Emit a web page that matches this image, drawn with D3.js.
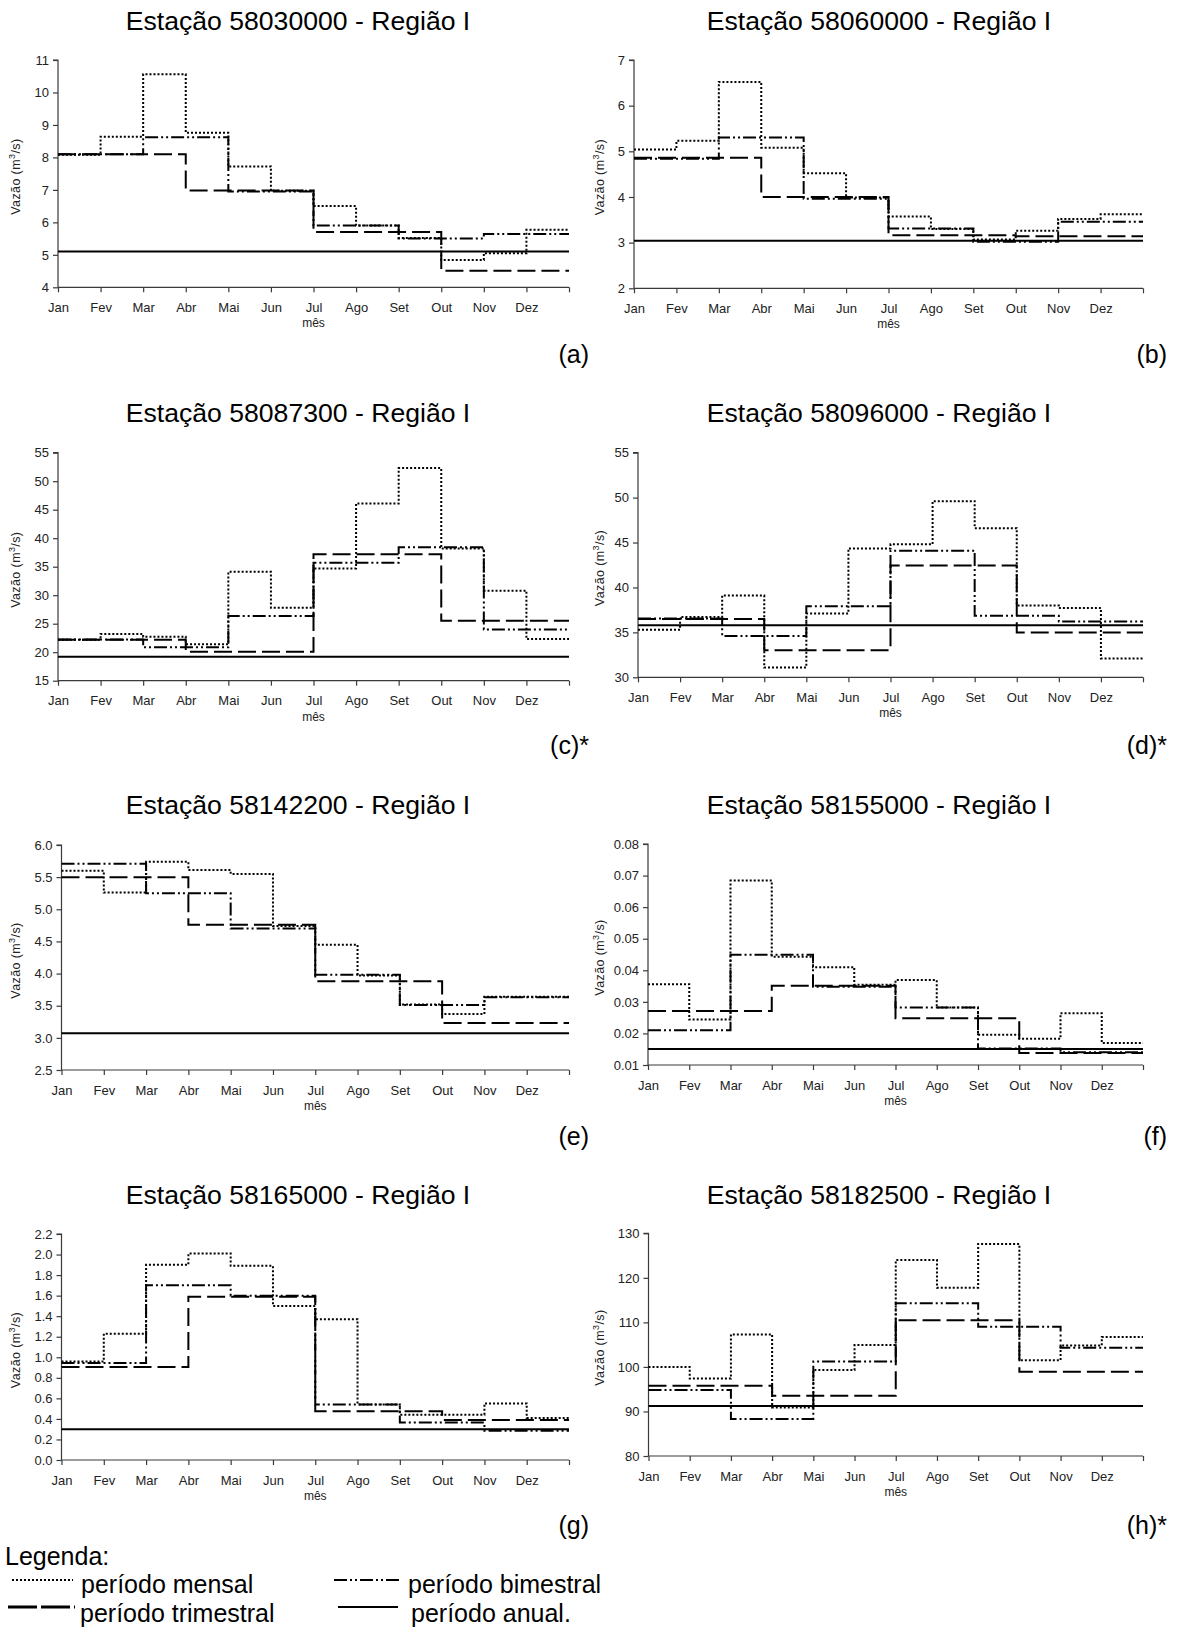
<!DOCTYPE html>
<html><head><meta charset="utf-8">
<script src="https://cdn.jsdelivr.net/npm/d3@7"></script>
<style>
body{margin:0;background:#fff;}
svg{display:block;}
text{font-family:"Liberation Sans",Arial,sans-serif;}
</style>
</head><body>
<svg id="chart" width="1177" height="1629"></svg>
<script>
// ---------- DATA ----------
const months = ["Jan","Fev","Mar","Abr","Mai","Jun","Jul","Ago","Set","Out","Nov","Dez"];
const titles = ["Estação 58030000 - Região I","Estação 58060000 - Região I","Estação 58087300 - Região I","Estação 58096000 - Região I","Estação 58142200 - Região I","Estação 58155000 - Região I","Estação 58165000 - Região I","Estação 58182500 - Região I"];
const panelLabels = ["(a)","(b)","(c)*","(d)*","(e)","(f)","(g)","(h)*"];

// (a) 58030000
const mensalA     = [8.08,8.64,10.56,8.76,7.72,6.97,6.50,5.90,5.52,4.84,5.05,5.77];
const bimestralA  = [8.10,8.62,6.95,5.90,5.50,5.64];
const trimestralA = [8.10,6.98,5.70,4.51];
const anualA      = [5.10];
const ticksA      = [4,5,6,7,8,9,10,11];
// (b) 58060000
const mensalB     = [5.04,5.23,6.52,5.08,4.52,3.99,3.57,3.30,3.07,3.26,3.52,3.62];
const bimestralB  = [4.84,5.30,3.96,3.31,3.02,3.46];
const trimestralB = [4.86,4.00,3.16,3.14];
const anualB      = [3.04];
const ticksB      = [2,3,4,5,6,7];
// (c) 58087300
const mensalC     = [22.2,23.2,22.7,21.4,34.1,27.8,34.7,46.1,52.3,38.2,30.8,22.3];
const bimestralC  = [22.25,20.85,26.35,35.7,38.4,24.0];
const trimestralC = [22.2,20.1,37.2,25.5];
const anualC      = [19.2];
const ticksC      = [15,20,25,30,35,40,45,50,55];
// (d) 58096000
const mensalD     = [35.3,36.7,39.1,31.1,37.1,44.35,44.8,49.6,46.6,38.0,37.7,32.1];
const bimestralD  = [36.55,34.6,37.9,44.1,36.85,36.2];
const trimestralD = [36.5,33.0,42.45,35.0];
const anualD      = [35.8];
const ticksD      = [30,35,40,45,50,55];
// (e) 58142200
const mensalE     = [5.60,5.26,5.74,5.61,5.55,4.74,4.45,3.97,3.52,3.37,3.64,3.64];
const bimestralE  = [5.71,5.25,4.70,3.98,3.51,3.63];
const trimestralE = [5.50,4.76,3.88,3.23];
const anualE      = [3.07];
const ticksE      = [2.5,3.0,3.5,4.0,4.5,5.0,5.5,6.0];
// (f) 58155000
const mensalF     = [0.0356,0.0244,0.0684,0.0443,0.0410,0.0354,0.0369,0.0282,0.0196,0.0183,0.0264,0.0170];
const bimestralF  = [0.0210,0.0449,0.0348,0.0282,0.0152,0.0140];
const trimestralF = [0.0271,0.0351,0.0248,0.0138];
const anualF      = [0.0151];
const ticksF      = [0.01,0.02,0.03,0.04,0.05,0.06,0.07,0.08];
// (g) 58165000
const mensalG     = [0.96,1.23,1.90,2.01,1.89,1.50,1.37,0.54,0.44,0.44,0.55,0.41];
const bimestralG  = [0.945,1.70,1.60,0.54,0.365,0.285];
const trimestralG = [0.905,1.59,0.475,0.39];
const anualG      = [0.30];
const ticksG      = [0.0,0.2,0.4,0.6,0.8,1.0,1.2,1.4,1.6,1.8,2.0,2.2];
// (h) 58182500
const mensalH     = [100.0,97.4,107.3,90.9,99.3,104.9,124.0,117.8,127.6,101.5,104.8,106.7];
const bimestralH  = [94.8,88.3,101.2,114.3,109.0,104.3];
const trimestralH = [95.8,93.5,110.5,98.9];
const anualH      = [91.2];
const ticksH      = [80,90,100,110,120,130];

const legendLabels = ["período mensal","período bimestral","período trimestral","período anual."];

// ---------- LAYOUT ----------
const panels = [
  {mensal:mensalA,bim:bimestralA,tri:trimestralA,anu:anualA,ticks:ticksA,fmt:"d",  left:58,  right:569,  top:60,    bottom:287.3, col:0,row:0},
  {mensal:mensalB,bim:bimestralB,tri:trimestralB,anu:anualB,ticks:ticksB,fmt:"d",  left:634, right:1143, top:60,    bottom:288.3, col:1,row:0},
  {mensal:mensalC,bim:bimestralC,tri:trimestralC,anu:anualC,ticks:ticksC,fmt:"d",  left:58,  right:569,  top:452.7, bottom:680.7, col:0,row:1},
  {mensal:mensalD,bim:bimestralD,tri:trimestralD,anu:anualD,ticks:ticksD,fmt:"d",  left:638, right:1143, top:452.7, bottom:677.3, col:1,row:1},
  {mensal:mensalE,bim:bimestralE,tri:trimestralE,anu:anualE,ticks:ticksE,fmt:".1f",left:61.5,right:569,  top:845,   bottom:1070,  col:0,row:2},
  {mensal:mensalF,bim:bimestralF,tri:trimestralF,anu:anualF,ticks:ticksF,fmt:".2f",left:648, right:1143, top:844,   bottom:1065,  col:1,row:2},
  {mensal:mensalG,bim:bimestralG,tri:trimestralG,anu:anualG,ticks:ticksG,fmt:".1f",left:61.5,right:569,  top:1234,  bottom:1460,  col:0,row:3},
  {mensal:mensalH,bim:bimestralH,tri:trimestralH,anu:anualH,ticks:ticksH,fmt:"d",  left:648.5,right:1143,top:1233.3,bottom:1456,  col:1,row:3}
];
const titleX = [298, 879];
const titleY = [30, 422, 814, 1204];
const labelRight = [589, 1167];
const labelY = [363, 754, 1145, 1534];
const yLabelX = [20, 604];

const styles = {
  mensal: {dash:"2,2",          w:2},
  bim:    {dash:"13,3,2,3,2,3", w:2},
  tri:    {dash:"18,6",         w:2},
  anu:    {dash:null,           w:2}
};

const svg = d3.select("#chart");
const axisColor = "#3a3a3a";
const textColor = "#222";

function stepPoints(vals, period){
  const pts = [];
  vals.forEach((v,k)=>{ pts.push([k*period, v]); pts.push([(k+1)*period, v]); });
  return pts;
}

panels.forEach((p,i)=>{
  const g = svg.append("g");
  const x = d3.scaleLinear().domain([0,12]).range([p.left,p.right]);
  const y = d3.scaleLinear().domain([p.ticks[0], p.ticks[p.ticks.length-1]]).range([p.bottom,p.top]);

  g.append("text").attr("x",titleX[p.col]).attr("y",titleY[p.row])
    .attr("text-anchor","middle").attr("font-size",26.6).attr("fill","#000").text(titles[i]);
  g.append("text").attr("x",labelRight[p.col]).attr("y",labelY[p.row])
    .attr("text-anchor","end").attr("font-size",25).attr("fill","#000").text(panelLabels[i]);

  const yAxis = d3.axisLeft(y).tickValues(p.ticks).tickSize(5).tickPadding(4).tickFormat(d3.format(p.fmt));
  const ya = g.append("g").attr("transform",`translate(${p.left},0)`).call(yAxis);
  ya.select(".domain").attr("stroke",axisColor).attr("stroke-width",1.2).attr("d",`M-5,${p.top}H0V${p.bottom}`);
  ya.selectAll(".tick line").attr("stroke",axisColor).attr("stroke-width",1.2);
  ya.selectAll(".tick text").attr("font-size",13).attr("fill",textColor).attr("font-family","Liberation Sans, Arial, sans-serif");

  const xAxis = d3.axisBottom(x).tickValues(d3.range(0,13)).tickSize(5).tickPadding(0)
    .tickFormat(d=> d<12 ? months[d] : "");
  const xa = g.append("g").attr("transform",`translate(0,${p.bottom})`).call(xAxis);
  xa.select(".domain").attr("stroke",axisColor).attr("stroke-width",1.2).attr("d",`M${p.left},0H${p.right}`);
  xa.selectAll(".tick line").attr("stroke",axisColor).attr("stroke-width",1.2);
  xa.selectAll(".tick text").attr("font-size",13).attr("fill",textColor).attr("dy",null).attr("y",24.5)
    .attr("font-family","Liberation Sans, Arial, sans-serif");

  g.append("text").attr("x",x(6)).attr("y",p.bottom+40).attr("text-anchor","middle")
    .attr("font-size",12).attr("fill",textColor).text("mês");

  const yl = g.append("text").attr("transform",`translate(${yLabelX[p.col]},${(p.top+p.bottom)/2+3}) rotate(-90)`)
    .attr("text-anchor","middle").attr("font-size",12.5).attr("fill",textColor).attr("letter-spacing",0.4);
  yl.append("tspan").text("Vazão (m");
  yl.append("tspan").attr("baseline-shift","super").attr("font-size",9).text("3");
  yl.append("tspan").text("/s)");

  const line = d3.line().x(d=>x(d[0])).y(d=>y(d[1]));
  const series = [
    {vals:p.anu, period:12, st:styles.anu},
    {vals:p.tri, period:3,  st:styles.tri},
    {vals:p.bim, period:2,  st:styles.bim},
    {vals:p.mensal, period:1, st:styles.mensal}
  ];
  series.forEach(s=>{
    g.append("path").datum(stepPoints(s.vals,s.period)).attr("d",line)
      .attr("fill","none").attr("stroke","#000").attr("stroke-width",s.st.w)
      .attr("stroke-dasharray",s.st.dash);
  });
});

// ---------- LEGEND ----------
const lg = svg.append("g");
lg.append("text").attr("x",5).attr("y",1565).attr("font-size",25).attr("fill","#000").text("Legenda:");
const legendItems = [
  {st:styles.mensal, x1:12, x2:73,  ly:1580, tx:81,  ty:1593, label:legendLabels[0]},
  {st:styles.bim,    x1:334,x2:400, ly:1580, tx:408, ty:1593, label:legendLabels[1]},
  {st:{dash:"29,4",w:3},x1:8, x2:75, ly:1607, tx:80, ty:1622, label:legendLabels[2]},
  {st:styles.anu,    x1:338,x2:398, ly:1607, tx:411, ty:1622, label:legendLabels[3]}
];
legendItems.forEach(it=>{
  lg.append("line").attr("x1",it.x1).attr("x2",it.x2).attr("y1",it.ly).attr("y2",it.ly)
    .attr("stroke","#000").attr("stroke-width",it.st.w).attr("stroke-dasharray",it.st.dash);
  lg.append("text").attr("x",it.tx).attr("y",it.ty).attr("font-size",25).attr("fill","#000").text(it.label);
});
</script>
</body></html>
